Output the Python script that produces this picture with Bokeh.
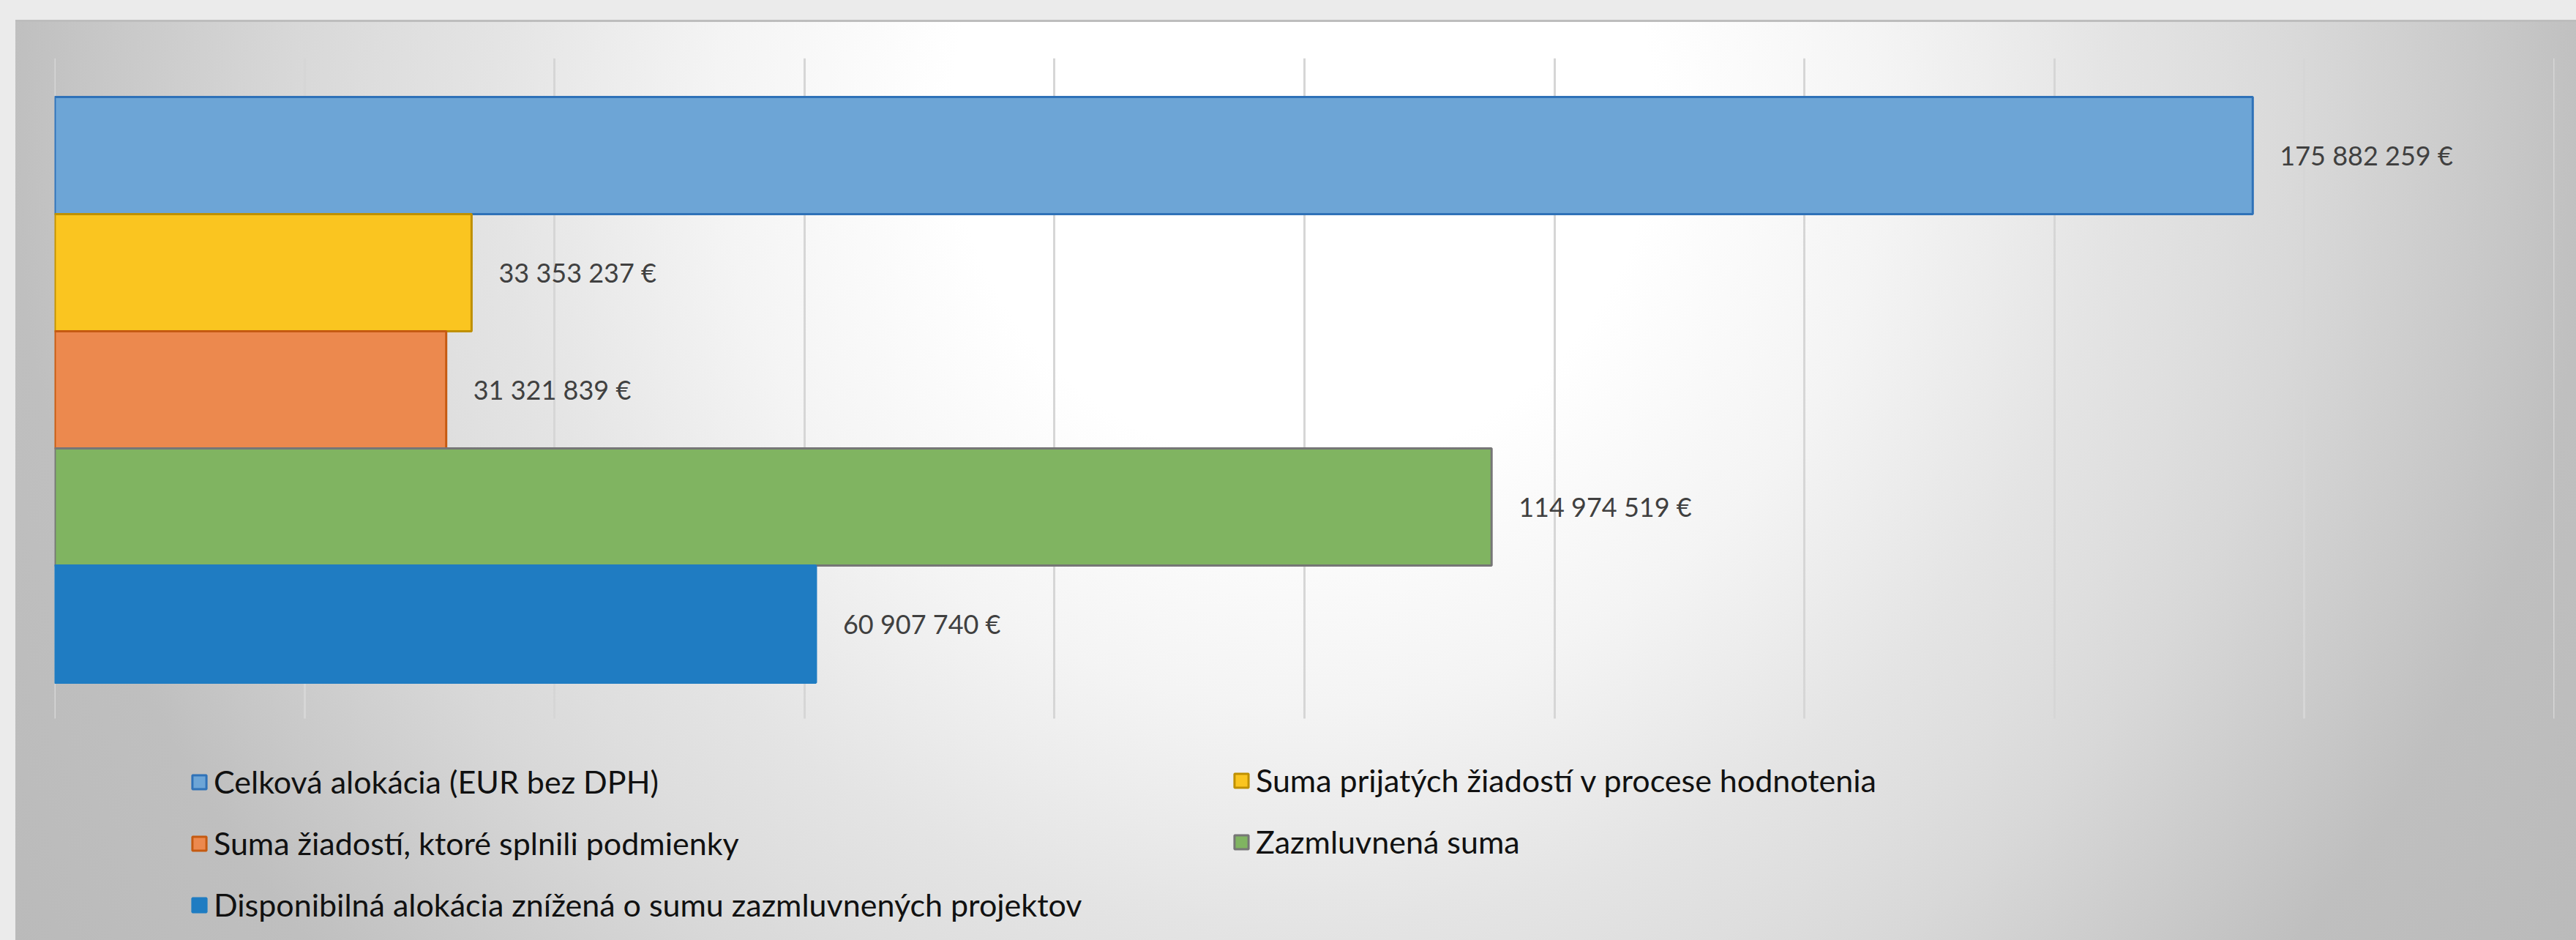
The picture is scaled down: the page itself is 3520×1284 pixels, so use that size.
from bokeh.plotting import figure
from bokeh.models import ColumnDataSource, Range1d, FixedTicker, Legend, LegendItem
from bokeh.core.properties import value
from bokeh.embed import file_html
from bokeh.resources import INLINE

# ---- data ----
series = [
    "Celková alokácia (EUR bez DPH)",
    "Suma prijatých žiadostí v procese hodnotenia",
    "Suma žiadostí, ktoré splnili podmienky",
    "Zazmluvnená suma",
    "Disponibilná alokácia znížená o sumu zazmluvnených projektov",
]
amounts = [175882259, 33353237, 31321839, 114974519, 60907740]
x_ticks = [0, 20000000, 40000000, 60000000, 80000000, 100000000,
           120000000, 140000000, 160000000, 180000000, 200000000]

fill_colors = ["#6DA5D6", "#FAC520", "#EC894E", "#80B461", "#1F7CC2"]
line_colors = ["#2F72B8", "#BF9000", "#C55A11", "#767676", "#1F7CC2"]

labels = [f"{a:,}".replace(",", " ") + " €" for a in amounts]
slots = list(range(len(series)))   # category slot of each series (0 = top)

# ---- layout constants ----
W, H = 3520, 1284
PAD_TOP, PAD_BOT = 0.331, 0.306      # gap above first / below last bar (in bar heights)
AXIS_TOP = -0.5 - PAD_TOP
AXIS_BOT = len(series) - 0.5 + PAD_BOT
FRAME_BOTTOM_EXTRA = 1.894           # space for legend below the bars (bar heights)
EPS = (x_ticks[-1] - x_ticks[0]) * 1e-4

p = figure(
    width=W, height=H,
    x_range=Range1d(x_ticks[0] - EPS, x_ticks[-1] + EPS),
    y_range=Range1d(start=AXIS_BOT + FRAME_BOTTOM_EXTRA, end=AXIS_TOP),
    output_backend="svg", toolbar_location=None,
    min_border_left=74, min_border_right=30, min_border_top=79, min_border_bottom=0,
)
p.background_fill_alpha = 0
p.border_fill_alpha = 0
p.outline_line_color = None
p.xaxis.visible = False
p.yaxis.visible = False
p.ygrid.grid_line_color = None

grid_ok = True
try:
    g = p.xgrid[0]
    g.cross_bounds = (AXIS_TOP, AXIS_BOT)
    g.ticker = FixedTicker(ticks=x_ticks)
    g.grid_line_color = "#d6d6d6"
    g.grid_line_width = 3
    g.level = "underlay"
except AttributeError:
    grid_ok = False
if not grid_ok:
    p.xgrid.grid_line_color = None
    p.segment(x0=x_ticks, x1=x_ticks, y0=[AXIS_TOP] * len(x_ticks), y1=[AXIS_BOT] * len(x_ticks),
              line_color="#d6d6d6", line_width=3, level="underlay")

p.styles = {
    "background-color": "#ebebeb",
    "background-image": (
        "linear-gradient(#bdbdbd, #bdbdbd), "
        "radial-gradient(circle at 1759px 133px, #ffffff 0px, #ffffff 480px, #f4f4f4 800px, "
        "#ececec 955px, #e4e4e4 1105px, #dedede 1255px, #d8d8d8 1380px, #d0d0d0 1505px, "
        "#c8c8c8 1630px, #bfbfbf 1765px, #bababa 2100px)"
    ),
    "background-position": "21px 27px, 21px 27px",
    "background-size": "3499px 3px, 3499px 1257px",
    "background-repeat": "no-repeat, no-repeat",
}

renderers = []
for slot, amt, fc, lc in zip(slots, amounts, fill_colors, line_colors):
    src = ColumnDataSource(dict(y=[slot], right=[amt]))
    r = p.hbar(y="y", right="right", left=0, height=1.0, source=src,
               fill_color=fc, line_color=lc, line_width=3)
    renderers.append(r)

lab_src = ColumnDataSource(dict(x=amounts, y=slots, text=labels))
p.text(x="x", y="y", text="text", source=lab_src, x_offset=37,
       text_baseline="middle", text_align="left",
       text_font=value("Lato"), text_font_size="36px", text_color="#404040")

def make_legend(idx, loc):
    lg = Legend(items=[LegendItem(label=series[i], renderers=[renderers[i]]) for i in idx],
                location=loc, orientation="vertical")
    lg.label_text_font = "Lato"
    lg.label_text_font_size = "43px"
    lg.label_text_color = "#111111"
    lg.glyph_width = 24
    lg.glyph_height = 24
    lg.label_standoff = 8
    lg.label_height = 53
    lg.spacing = 31
    lg.padding = 0
    lg.margin = 0
    lg.border_line_alpha = 0
    lg.background_fill_alpha = 0
    return lg

p.add_layout(make_legend([0, 2, 4], (186, 22)), "center")
p.add_layout(make_legend([1, 3], (1610, 108)), "center")

open("out.html", "w").write(file_html(p, INLINE))
